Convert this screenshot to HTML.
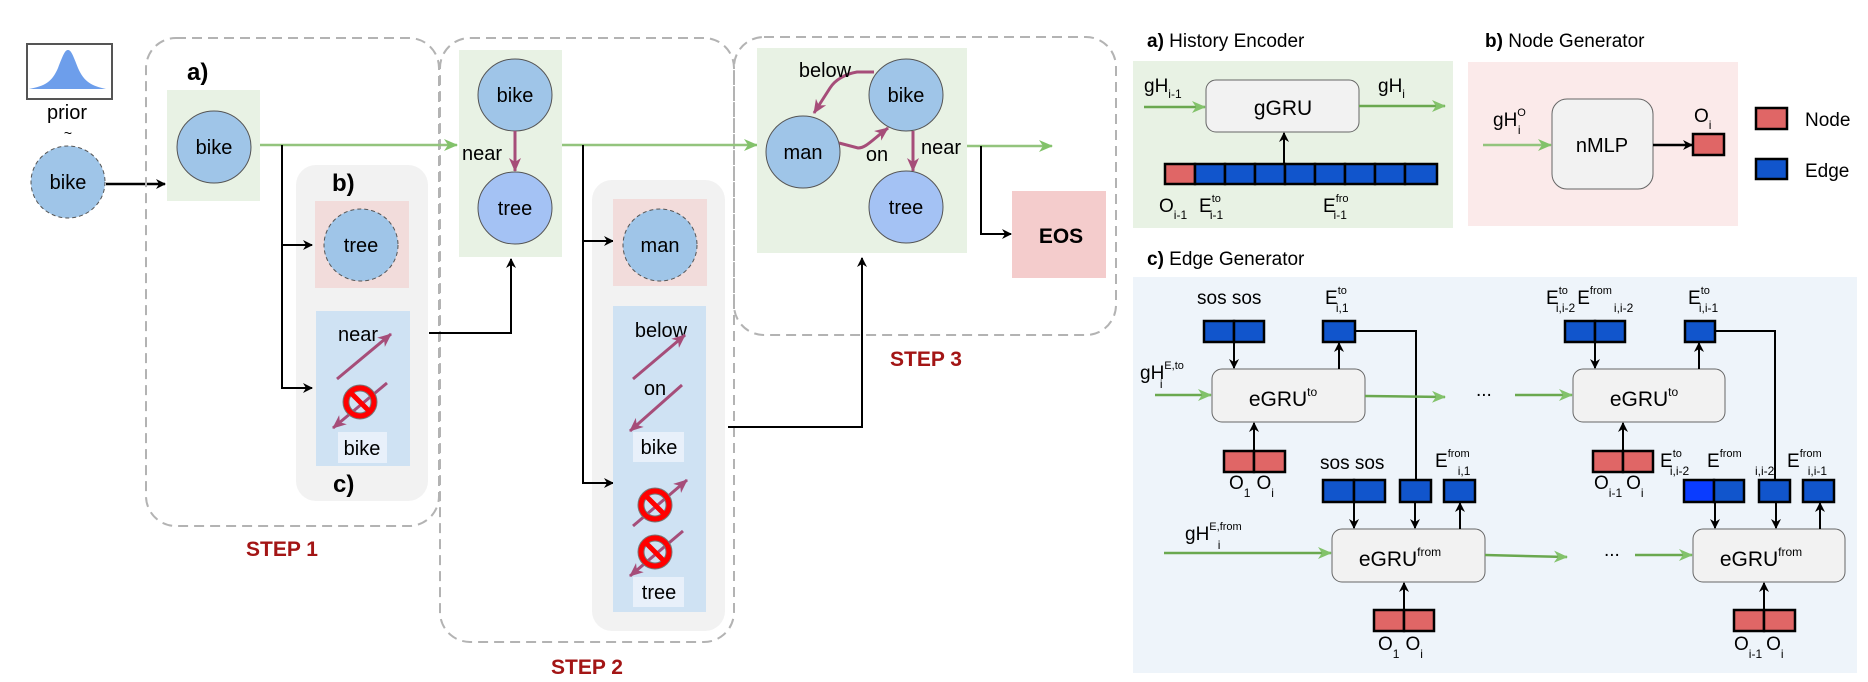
<!DOCTYPE html>
<html><head><meta charset="utf-8"><style>
html,body{margin:0;padding:0;background:#fff;}
svg{display:block;}
text{font-family:"Liberation Sans",sans-serif;fill:#000;}
.b{font-weight:bold;}
.st{fill:#a31515;font-weight:bold;font-size:21px;}
</style></head><body>
<svg width="1868" height="682" viewBox="0 0 1868 682" xmlns="http://www.w3.org/2000/svg">
<defs>
<marker id="ak" markerWidth="10" markerHeight="10" refX="9" refY="5" orient="auto" markerUnits="userSpaceOnUse"><path d="M0,0 L10,5 L0,10 L3,5 z" fill="#000"/></marker>
<marker id="ag" markerWidth="14" markerHeight="12" refX="13" refY="6" orient="auto" markerUnits="userSpaceOnUse"><path d="M0,0 L14,6 L0,12 L4,6 z" fill="#82c26a"/></marker>
<marker id="am" markerWidth="14" markerHeight="12" refX="13" refY="6" orient="auto" markerUnits="userSpaceOnUse"><path d="M0,0 L14,6 L0,12 L4,6 z" fill="#a64d79"/></marker>
<g id="nope"><circle r="14" fill="none" stroke="#777" stroke-width="7"/><circle r="14" fill="none" stroke="#ff0000" stroke-width="5"/><line x1="-10" y1="-10" x2="10" y2="10" stroke="#ff0000" stroke-width="5"/></g>
</defs>

<!-- prior -->
<rect x="27" y="44" width="85" height="55" fill="#fff" stroke="#555" stroke-width="2"/>
<path d="M29,89 C45,86 52,82 58,68 C63,55 65,50 68,50 C71,50 73,55 78,68 C84,82 92,86 106,89 Z" fill="#6d9eeb"/>
<text x="67" y="119" font-size="20" text-anchor="middle">prior</text>
<text x="68" y="138" font-size="14" text-anchor="middle">~</text>
<ellipse cx="68" cy="182" rx="37" ry="36" fill="#9fc5e8" stroke="#555" stroke-dasharray="4,3"/>
<text x="68" y="189" font-size="20" text-anchor="middle">bike</text>
<line x1="106" y1="184" x2="165" y2="184" stroke="#000" stroke-width="2.5" marker-end="url(#ak)"/>

<!-- step boxes -->
<rect x="146" y="38" width="293" height="488" rx="30" fill="none" stroke="#b3b3b3" stroke-width="2" stroke-dasharray="10,6"/>
<rect x="440" y="38" width="294" height="604" rx="30" fill="none" stroke="#b3b3b3" stroke-width="2" stroke-dasharray="10,6"/>
<rect x="734" y="37" width="382" height="298" rx="30" fill="none" stroke="#b3b3b3" stroke-width="2" stroke-dasharray="10,6"/>

<!-- STEP 1 -->
<text x="187" y="80" font-size="24" class="b">a)</text>
<rect x="167" y="90" width="93" height="111" fill="#e8f2e4"/>
<ellipse cx="214" cy="147" rx="37" ry="36" fill="#9fc5e8" stroke="#555"/>
<text x="214" y="154" font-size="20" text-anchor="middle">bike</text>
<line x1="260" y1="145" x2="457" y2="145" stroke="#93c47d" stroke-width="2.5" marker-end="url(#ag)"/>
<rect x="296" y="165" width="132" height="336" rx="20" fill="#f2f2f2"/>
<polyline points="282,145 282,388" fill="none" stroke="#000" stroke-width="2"/>
<line x1="282" y1="245" x2="312" y2="245" stroke="#000" stroke-width="2" marker-end="url(#ak)"/>
<line x1="281" y1="388" x2="312" y2="388" stroke="#000" stroke-width="2" marker-end="url(#ak)"/>
<text x="332" y="191" font-size="24" class="b">b)</text>
<rect x="315" y="201" width="94" height="87" fill="#f2dcdb"/>
<ellipse cx="361" cy="245" rx="37" ry="36" fill="#9fc5e8" stroke="#555" stroke-dasharray="4,3"/>
<text x="361" y="252" font-size="20" text-anchor="middle">tree</text>
<rect x="316" y="311" width="94" height="155" fill="#cfe2f3"/>
<text x="358" y="341" font-size="20" text-anchor="middle">near</text>
<line x1="337" y1="379" x2="391" y2="334" stroke="#a64d79" stroke-width="3" marker-end="url(#am)"/>
<line x1="387" y1="383" x2="333" y2="428" stroke="#a64d79" stroke-width="3" marker-end="url(#am)"/>
<use href="#nope" x="360" y="402"/>
<rect x="338" y="432" width="49" height="31" fill="#e8f0fa"/>
<text x="362" y="455" font-size="20" text-anchor="middle">bike</text>
<text x="333" y="492" font-size="24" class="b">c)</text>
<polyline points="429,333 511,333 511,259" fill="none" stroke="#000" stroke-width="2" marker-end="url(#ak)"/>
<text x="282" y="556" class="st" text-anchor="middle">STEP 1</text>

<!-- STEP 2 -->
<rect x="459" y="50" width="103" height="207" fill="#e8f2e4"/>
<ellipse cx="515" cy="95" rx="37" ry="36" fill="#9fc5e8" stroke="#555"/>
<text x="515" y="102" font-size="20" text-anchor="middle">bike</text>
<ellipse cx="515" cy="208" rx="37" ry="36" fill="#a4c2f4" stroke="#555"/>
<text x="515" y="215" font-size="20" text-anchor="middle">tree</text>
<line x1="515" y1="131" x2="515" y2="171" stroke="#a64d79" stroke-width="3" marker-end="url(#am)"/>
<text x="462" y="160" font-size="20">near</text>
<line x1="562" y1="145" x2="757" y2="145" stroke="#93c47d" stroke-width="2.5" marker-end="url(#ag)"/>
<rect x="592" y="180" width="133" height="451" rx="20" fill="#f2f2f2"/>
<polyline points="583,145 583,483" fill="none" stroke="#000" stroke-width="2"/>
<line x1="583" y1="241" x2="613" y2="241" stroke="#000" stroke-width="2" marker-end="url(#ak)"/>
<line x1="582" y1="483" x2="613" y2="483" stroke="#000" stroke-width="2" marker-end="url(#ak)"/>
<rect x="613" y="199" width="94" height="87" fill="#f2dcdb"/>
<ellipse cx="660" cy="245" rx="37" ry="36" fill="#9fc5e8" stroke="#555" stroke-dasharray="4,3"/>
<text x="660" y="252" font-size="20" text-anchor="middle">man</text>
<rect x="613" y="306" width="93" height="306" fill="#cfe2f3"/>
<text x="661" y="337" font-size="20" text-anchor="middle">below</text>
<line x1="633" y1="379" x2="685" y2="335" stroke="#a64d79" stroke-width="3" marker-end="url(#am)"/>
<text x="655" y="395" font-size="20" text-anchor="middle">on</text>
<line x1="682" y1="385" x2="630" y2="431" stroke="#a64d79" stroke-width="3" marker-end="url(#am)"/>
<rect x="633" y="432" width="51" height="30" fill="#e8f0fa"/>
<text x="659" y="454" font-size="20" text-anchor="middle">bike</text>
<line x1="633" y1="526" x2="687" y2="480" stroke="#a64d79" stroke-width="3" marker-end="url(#am)"/>
<use href="#nope" x="655" y="505"/>
<line x1="683" y1="531" x2="630" y2="576" stroke="#a64d79" stroke-width="3" marker-end="url(#am)"/>
<use href="#nope" x="655" y="552"/>
<rect x="633" y="577" width="51" height="30" fill="#e8f0fa"/>
<text x="659" y="599" font-size="20" text-anchor="middle">tree</text>
<polyline points="728,427 862,427 862,258" fill="none" stroke="#000" stroke-width="2" marker-end="url(#ak)"/>
<text x="587" y="674" class="st" text-anchor="middle">STEP 2</text>

<!-- STEP 3 -->
<rect x="757" y="48" width="210" height="205" fill="#e8f2e4"/>
<path d="M874,72 L857,72 C845,74 835,80 830,88 L814,113" fill="none" stroke="#a64d79" stroke-width="3" marker-end="url(#am)"/>
<path d="M839,143 L858,148 C866,148 872,140 888,128" fill="none" stroke="#a64d79" stroke-width="3" marker-end="url(#am)"/>
<line x1="913" y1="131" x2="913" y2="171" stroke="#a64d79" stroke-width="3" marker-end="url(#am)"/>
<ellipse cx="906" cy="95" rx="37" ry="36" fill="#9fc5e8" stroke="#555"/>
<text x="906" y="102" font-size="20" text-anchor="middle">bike</text>
<ellipse cx="803" cy="152" rx="37" ry="36" fill="#9fc5e8" stroke="#555"/>
<text x="803" y="159" font-size="20" text-anchor="middle">man</text>
<ellipse cx="906" cy="207" rx="37" ry="36" fill="#a4c2f4" stroke="#555"/>
<text x="906" y="214" font-size="20" text-anchor="middle">tree</text>
<text x="825" y="77" font-size="20" text-anchor="middle">below</text>
<text x="877" y="161" font-size="20" text-anchor="middle">on</text>
<text x="941" y="154" font-size="20" text-anchor="middle">near</text>
<line x1="967" y1="146" x2="1052" y2="146" stroke="#93c47d" stroke-width="2.5" marker-end="url(#ag)"/>
<polyline points="981,146 981,234 1011,234" fill="none" stroke="#000" stroke-width="2" marker-end="url(#ak)"/>
<rect x="1012" y="191" width="94" height="87" fill="#f4cccc"/>
<text x="1061" y="243" font-size="21" class="b" text-anchor="middle">EOS</text>
<text x="926" y="366" class="st" text-anchor="middle">STEP 3</text>

<!-- a) History encoder -->
<g font-size="19">
<text x="1147" y="47"><tspan class="b">a)</tspan> History Encoder</text>
<text x="1485" y="47"><tspan class="b">b)</tspan> Node Generator</text>
<text x="1147" y="265"><tspan class="b">c)</tspan> Edge Generator</text>
</g>
<rect x="1133" y="61" width="320" height="167" fill="#e8f2e4"/>
<rect x="1206" y="80" width="153" height="52" rx="10" fill="#f2f2f2" stroke="#666"/>
<text x="1283" y="115" font-size="21" text-anchor="middle">gGRU</text>
<text x="1144" y="92" font-size="19">gH<tspan font-size="12" dy="6">i-1</tspan></text>
<line x1="1144" y1="107" x2="1205" y2="107" stroke="#6aa84f" stroke-width="2.5" marker-end="url(#ag)"/>
<text x="1378" y="92" font-size="19">gH<tspan font-size="12" dy="6">i</tspan></text>
<line x1="1359" y1="106" x2="1445" y2="106" stroke="#6aa84f" stroke-width="2.5" marker-end="url(#ag)"/>
<g stroke="#000" stroke-width="2.5">
<rect x="1165" y="164" width="30" height="20" fill="#e06666"/>
<rect x="1195" y="164" width="30" height="20" fill="#1155cc"/>
<rect x="1225" y="164" width="30" height="20" fill="#1155cc"/>
<rect x="1255" y="164" width="30" height="20" fill="#1155cc"/>
<rect x="1285" y="164" width="30" height="20" fill="#1155cc"/>
<rect x="1315" y="164" width="30" height="20" fill="#1155cc"/>
<rect x="1345" y="164" width="30" height="20" fill="#1155cc"/>
<rect x="1375" y="164" width="30" height="20" fill="#1155cc"/>
<rect x="1405" y="164" width="32" height="20" fill="#1155cc"/>
</g>
<line x1="1284" y1="164" x2="1284" y2="133" stroke="#000" stroke-width="2" marker-end="url(#ak)"/>
<text x="1159" y="212" font-size="19">O<tspan font-size="12" dy="7">i-1</tspan></text>
<text x="1199" y="212" font-size="19">E<tspan font-size="11" dy="-10">to</tspan><tspan font-size="12" dx="-11" dy="17">i-1</tspan></text>
<text x="1323" y="212" font-size="19">E<tspan font-size="11" dy="-10">fro</tspan><tspan font-size="12" dx="-15" dy="17">i-1</tspan></text>

<!-- b) Node generator -->
<rect x="1468" y="62" width="270" height="164" fill="#fbeaea"/>
<rect x="1552" y="99" width="101" height="90" rx="15" fill="#f2f2f2" stroke="#666"/>
<text x="1602" y="152" font-size="20" text-anchor="middle">nMLP</text>
<text x="1493" y="126" font-size="19">gH<tspan font-size="11" dy="-10">O</tspan><tspan font-size="12" dx="-8" dy="18">i</tspan></text>
<line x1="1483" y1="145" x2="1551" y2="145" stroke="#93c47d" stroke-width="2.5" marker-end="url(#ag)"/>
<line x1="1653" y1="145" x2="1692" y2="145" stroke="#000" stroke-width="2.5" marker-end="url(#ak)"/>
<rect x="1693" y="134" width="31" height="21" fill="#e06666" stroke="#000" stroke-width="2.5"/>
<text x="1694" y="122" font-size="19">O<tspan font-size="12" dy="7">i</tspan></text>
<rect x="1756" y="108" width="31" height="21" fill="#e06666" stroke="#000" stroke-width="2.5"/>
<text x="1805" y="126" font-size="19">Node</text>
<rect x="1756" y="159" width="31" height="20" fill="#1155cc" stroke="#000" stroke-width="2.5"/>
<text x="1805" y="177" font-size="19">Edge</text>

<!-- c) Edge generator -->
<rect x="1133" y="277" width="724" height="396" fill="#eef4fa"/>
<g font-size="19">
<text x="1197" y="304">sos sos</text>
<text x="1325" y="304">E<tspan font-size="11" dy="-10">to</tspan><tspan font-size="12" dx="-11" dy="18">i,1</tspan></text>
<text x="1140" y="379">gH<tspan font-size="11" dy="-10">E,to</tspan><tspan font-size="12" dx="-24" dy="19">i</tspan></text>
<text x="1229" y="489">O<tspan font-size="12" dy="8">1</tspan><tspan dx="6" dy="-8">O</tspan><tspan font-size="12" dy="8">i</tspan></text>
<text x="1320" y="469">sos sos</text>
<text x="1435" y="467">E<tspan font-size="11" dy="-10">from</tspan><tspan font-size="12" dx="-12" dy="18">i,1</tspan></text>
<text x="1185" y="540">gH<tspan font-size="11" dy="-10">E,from</tspan><tspan font-size="12" dx="-24" dy="19">i</tspan></text>
<text x="1378" y="650">O<tspan font-size="12" dy="8">1</tspan><tspan dx="6" dy="-8">O</tspan><tspan font-size="12" dy="8">i</tspan></text>
<text x="1546" y="304">E<tspan font-size="11" dy="-10">to</tspan><tspan font-size="12" dx="-12" dy="18">i,i-2</tspan><tspan dx="2" dy="-8">E</tspan><tspan font-size="11" dy="-10">from</tspan><tspan font-size="12" dx="2" dy="18">i,i-2</tspan></text>
<text x="1688" y="304">E<tspan font-size="11" dy="-10">to</tspan><tspan font-size="12" dx="-11" dy="18">i,i-1</tspan></text>
<text x="1594" y="489">O<tspan font-size="12" dy="8">i-1</tspan><tspan dx="4" dy="-8">O</tspan><tspan font-size="12" dy="8">i</tspan></text>
<text x="1660" y="467">E<tspan font-size="11" dy="-10">to</tspan><tspan font-size="12" dx="-12" dy="18">i,i-2</tspan></text>
<text x="1707" y="467">E<tspan font-size="11" dy="-10">from</tspan></text>
<text x="1755" y="475" font-size="12">i,i-2</text>
<text x="1787" y="467">E<tspan font-size="11" dy="-10">from</tspan><tspan font-size="12" dx="-14" dy="18">i,i-1</tspan></text>
<text x="1734" y="650">O<tspan font-size="12" dy="8">i-1</tspan><tspan dx="4" dy="-8">O</tspan><tspan font-size="12" dy="8">i</tspan></text>
<text x="1476" y="396">...</text>
<text x="1604" y="556">...</text>
</g>
<g fill="none" stroke="#000" stroke-width="2">
<polyline points="1355,331 1416,331 1416,480"/>
<polyline points="1715,331 1775,331 1775,480"/>
</g>
<g fill="#f2f2f2" stroke="#666">
<rect x="1212" y="369" width="153" height="53" rx="10"/>
<rect x="1573" y="369" width="152" height="53" rx="10"/>
<rect x="1332" y="529" width="153" height="53" rx="10"/>
<rect x="1693" y="529" width="152" height="53" rx="10"/>
</g>
<g font-size="21" text-anchor="middle">
<text x="1283" y="406">eGRU<tspan font-size="12" dy="-10">to</tspan></text>
<text x="1644" y="406">eGRU<tspan font-size="12" dy="-10">to</tspan></text>
<text x="1400" y="566">eGRU<tspan font-size="12" dy="-10">from</tspan></text>
<text x="1761" y="566">eGRU<tspan font-size="12" dy="-10">from</tspan></text>
</g>
<g stroke="#6aa84f" stroke-width="2.5">
<line x1="1155" y1="395" x2="1211" y2="395" marker-end="url(#ag)"/>
<line x1="1365" y1="396" x2="1445" y2="397" marker-end="url(#ag)"/>
<line x1="1515" y1="395" x2="1572" y2="395" marker-end="url(#ag)"/>
<line x1="1164" y1="553" x2="1331" y2="553" marker-end="url(#ag)"/>
<line x1="1485" y1="555" x2="1567" y2="557" marker-end="url(#ag)"/>
<line x1="1635" y1="555" x2="1692" y2="555" marker-end="url(#ag)"/>
</g>
<g stroke="#000" stroke-width="2.5">
<rect x="1204" y="321" width="30" height="21" fill="#1155cc"/><rect x="1234" y="321" width="30" height="21" fill="#1155cc"/>
<rect x="1323" y="321" width="32" height="21" fill="#1155cc"/>
<rect x="1565" y="321" width="30" height="21" fill="#1155cc"/><rect x="1595" y="321" width="30" height="21" fill="#1155cc"/>
<rect x="1685" y="321" width="30" height="21" fill="#1155cc"/>
<rect x="1224" y="451" width="30" height="21" fill="#e06666"/><rect x="1254" y="451" width="31" height="21" fill="#e06666"/>
<rect x="1593" y="451" width="30" height="21" fill="#e06666"/><rect x="1623" y="451" width="30" height="21" fill="#e06666"/>
<rect x="1323" y="480" width="31" height="22" fill="#1155cc"/><rect x="1354" y="480" width="31" height="22" fill="#1155cc"/>
<rect x="1400" y="480" width="31" height="22" fill="#1155cc"/>
<rect x="1444" y="480" width="31" height="22" fill="#1155cc"/>
<rect x="1684" y="480" width="30" height="22" fill="#0a3cff"/><rect x="1714" y="480" width="30" height="22" fill="#1155cc"/>
<rect x="1759" y="480" width="31" height="22" fill="#1155cc"/>
<rect x="1803" y="480" width="31" height="22" fill="#1155cc"/>
<rect x="1374" y="610" width="30" height="21" fill="#e06666"/><rect x="1404" y="610" width="30" height="21" fill="#e06666"/>
<rect x="1734" y="610" width="30" height="21" fill="#e06666"/><rect x="1764" y="610" width="31" height="21" fill="#e06666"/>
</g>
<g stroke="#000" stroke-width="2">
<line x1="1234" y1="342" x2="1234" y2="368" marker-end="url(#ak)"/>
<line x1="1339" y1="369" x2="1339" y2="343" marker-end="url(#ak)"/>
<line x1="1254" y1="451" x2="1254" y2="423" marker-end="url(#ak)"/>
<line x1="1595" y1="342" x2="1595" y2="368" marker-end="url(#ak)"/>
<line x1="1699" y1="369" x2="1699" y2="343" marker-end="url(#ak)"/>
<line x1="1623" y1="451" x2="1623" y2="423" marker-end="url(#ak)"/>
<line x1="1354" y1="502" x2="1354" y2="528" marker-end="url(#ak)"/>
<line x1="1415" y1="502" x2="1415" y2="528" marker-end="url(#ak)"/>
<line x1="1460" y1="529" x2="1460" y2="503" marker-end="url(#ak)"/>
<line x1="1404" y1="610" x2="1404" y2="583" marker-end="url(#ak)"/>
<line x1="1715" y1="502" x2="1715" y2="528" marker-end="url(#ak)"/>
<line x1="1776" y1="502" x2="1776" y2="528" marker-end="url(#ak)"/>
<line x1="1820" y1="529" x2="1820" y2="503" marker-end="url(#ak)"/>
<line x1="1764" y1="610" x2="1764" y2="583" marker-end="url(#ak)"/>
</g>
</svg>
</body></html>
